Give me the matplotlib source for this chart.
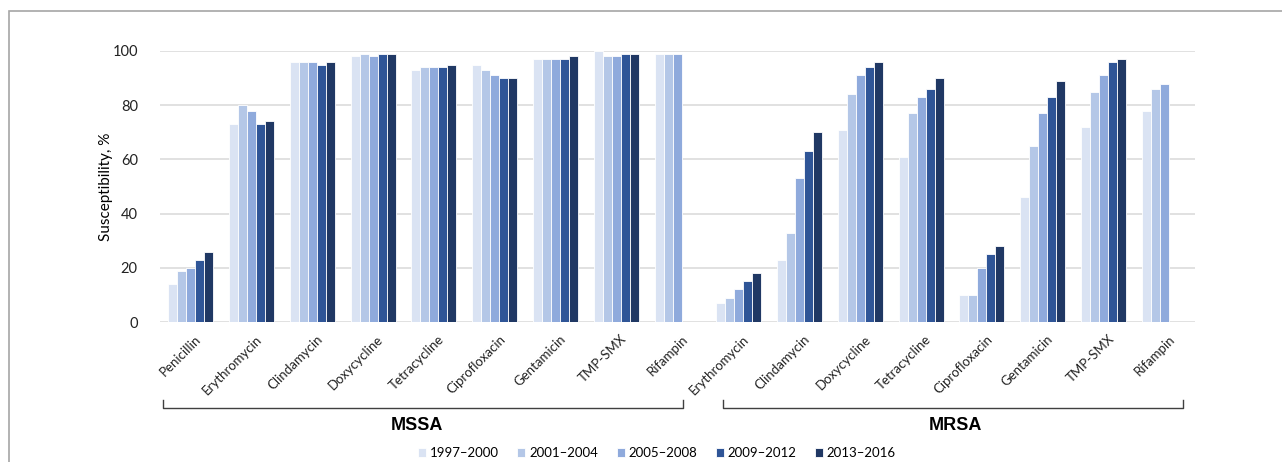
import numpy as np
import matplotlib
matplotlib.use("Agg")
import matplotlib.pyplot as plt
import matplotlib.transforms as mtransforms
from matplotlib.patches import Rectangle

plt.rcParams['font.family'] = ['Lato', 'DejaVu Sans']

# categories: 9 MSSA drugs then 8 MRSA drugs
mssa_drugs = ['Penicillin', 'Erythromycin', 'Clindamycin', 'Doxycycline', 'Tetracycline',
              'Ciprofloxacin', 'Gentamicin', 'TMP-SMX', 'Rifampin']
mrsa_drugs = ['Erythromycin', 'Clindamycin', 'Doxycycline', 'Tetracycline',
              'Ciprofloxacin', 'Gentamicin', 'TMP-SMX', 'Rifampin']
periods = ['1997\u20132000', '2001\u20132004', '2005\u20132008', '2009\u20132012', '2013\u20132016']
colors = ['#dae3f3', '#b4c7e7', '#8faadc', '#2f5597', '#203864']

nan = np.nan
# susceptibility %, one list per period (MSSA first, then MRSA)
s_1997 = [14, 73, 96, 98, 93, 95, 97, 100, 99,
          7, 23, 71, 61, 10, 46, 72, 78]
s_2001 = [19, 80, 96, 99, 94, 93, 97, 98, 99,
          9, 33, 84, 77, 10, 65, 85, 86]
s_2005 = [20, 78, 96, 98, 94, 91, 97, 98, 99,
          12, 53, 91, 83, 20, 77, 91, 88]
s_2009 = [23, 73, 95, 99, 94, 90, 97, 99, nan,
          15, 63, 94, 86, 25, 83, 96, nan]
s_2013 = [26, 74, 96, 99, 95, 90, 98, 99, nan,
          18, 70, 96, 90, 28, 89, 97, nan]
series = [s_1997, s_2001, s_2005, s_2009, s_2013]

labels = mssa_drugs + mrsa_drugs
x = np.arange(len(labels))
bw = 0.148

fig = plt.figure(figsize=(12.82, 4.62), dpi=100)
ax = fig.add_axes([160 / 1282, 1 - 322 / 462, 1035 / 1282, 271 / 462])

for i, (vals, col, lab) in enumerate(zip(series, colors, periods)):
    ax.bar(x + (i - 2) * bw, vals, width=bw, color=col, edgecolor='white',
           linewidth=0.6, label=lab, zorder=3)

ax.set_xlim(-0.5, len(labels) - 0.5)
ax.set_ylim(0, 100)
ax.set_yticks(range(0, 101, 20))
ax.yaxis.grid(True, color='#d9d9d9', linewidth=1.1, zorder=0)
for s in ax.spines.values():
    s.set_visible(False)
ax.tick_params(length=0, labelsize=10.5, colors='#222222')
ax.tick_params(axis='y', pad=16)
ax.set_ylabel('Susceptibility, %', fontsize=11)
ax.yaxis.set_label_coords(-0.045, 0.5)

ax.set_xticks(x)
ax.set_xticklabels(labels, rotation=45, ha='right', rotation_mode='anchor', fontsize=9.5)
offset = mtransforms.ScaledTranslation(4 / 100, -6 / 100, fig.dpi_scale_trans)
for t in ax.get_xticklabels():
    t.set_transform(t.get_transform() + offset)

# group brackets under the labels
btr = mtransforms.blended_transform_factory(ax.transData, fig.transFigure)
y_line = 1 - 408 / 462
y_tip = 1 - 400 / 462
groups = [(-0.45, 8.09, 3.72, 'MSSA'), (8.75, 16.3, 12.56, 'MRSA')]
for x0, x1, xl, name in groups:
    ax.plot([x0, x0, x1, x1], [y_tip, y_line, y_line, y_tip], transform=btr,
            color='#404040', linewidth=1, clip_on=False)
    fig.text(xl, 1 - 425 / 462, name, transform=btr, fontsize=13, fontweight='bold',
             family=['Liberation Sans', 'DejaVu Sans'], ha='center', va='center')

leg = fig.legend(loc='center', bbox_to_anchor=(657 / 1282, 9 / 462), ncol=5, frameon=False,
                 fontsize=9.5, handlelength=0.6, handleheight=0.6, handletextpad=0.3,
                 columnspacing=1.4, borderpad=0.1)

fig.add_artist(Rectangle((9 / 1282, -0.1), 1.1, 1 - 11 / 462 + 0.1, transform=fig.transFigure,
                         fill=False, edgecolor='#a6a6a6', linewidth=1.2))

fig.savefig('out.png', dpi=100)
